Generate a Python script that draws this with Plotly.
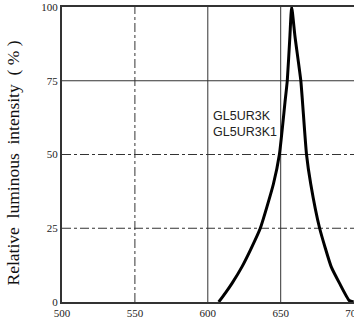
import plotly.graph_objects as go

# Spectrum data (wavelength nm, relative intensity %)
wavelength = [607.5, 612, 616.7, 623.5, 629.2, 636, 645, 649.1, 652.9, 654.5, 656.3, 657.5,
              659.8, 663.8, 665, 667.7, 670.6, 676.7, 684.6, 690.3, 697, 700]
intensity = [0, 3, 6.4, 12, 17.6, 25, 40, 50, 67.5, 75, 90, 100,
             90, 75, 67.5, 50, 40, 25, 12, 6.4, 0.5, 0]

x_ticks = [500, 550, 600, 650, 700]
y_ticks = [0, 25, 50, 75, 100]
x_grid = [550, 600, 650]
x_grid_dash = ["dashdot", "solid", "solid"]
y_grid = [25, 50, 75]
y_grid_dash = ["dashdot", "dashdot", "solid"]

label_text = "GL5UR3K<br>GL5UR3K1"
label_pos = (602.5, 60.5)
y_title = "Relative&nbsp;&nbsp;luminous&nbsp;&nbsp;intensity&nbsp;&nbsp;(&nbsp;%&nbsp;)"

fig = go.Figure()
fig.add_trace(go.Scatter(x=wavelength, y=intensity, mode="lines",
                         line=dict(color="black", width=3, shape="spline", smoothing=0.5),
                         showlegend=False, hoverinfo="skip"))

shapes = []
for v, d in zip(x_grid, x_grid_dash):
    shapes.append(dict(type="line", xref="x", yref="paper", x0=v, x1=v, y0=0, y1=1,
                       line=dict(color="#333", width=1, dash=d), layer="below"))
for v, d in zip(y_grid, y_grid_dash):
    shapes.append(dict(type="line", xref="paper", yref="y", x0=0, x1=1, y0=v, y1=v,
                       line=dict(color="#333", width=1, dash=d), layer="below"))

fig.update_layout(
    width=362, height=327,
    margin=dict(l=62, r=0, t=7, b=25),
    paper_bgcolor="white", plot_bgcolor="white",
    shapes=shapes,
    font=dict(family="Liberation Serif", color="#222"),
    annotations=[
        dict(x=label_pos[0], y=label_pos[1], xref="x", yref="y",
             text=label_text, showarrow=False, xanchor="left", yanchor="middle",
             align="left", font=dict(family="Liberation Sans", size=12.5, color="#222")),
        dict(x=0, y=0.5, xref="paper", yref="paper", text=y_title, textangle=-90,
             showarrow=False, xanchor="center", yanchor="middle", xshift=-50, yshift=-9,
             font=dict(family="Liberation Serif", size=17.5, color="#111")),
    ],
)
fig.update_xaxes(range=[500, 703.7], tickvals=x_ticks, ticktext=[str(t) for t in x_ticks],
                 showgrid=False, zeroline=False, showline=True, linecolor="#333", linewidth=2,
                 mirror=True, ticks="", ticklabeloverflow="allow",
                 tickfont=dict(size=11, family="Liberation Serif"))
fig.update_yaxes(range=[0, 100], tickvals=y_ticks, ticktext=[str(t) for t in y_ticks],
                 showgrid=False, zeroline=False, showline=True, linecolor="#333", linewidth=2,
                 ticks="", tickfont=dict(size=11, family="Liberation Serif"))

fig.write_html("out.html",
               post_script="document.body.style.margin='0';document.body.style.overflow='hidden';document.documentElement.style.overflow='hidden';",
               config={"displayModeBar": False})
